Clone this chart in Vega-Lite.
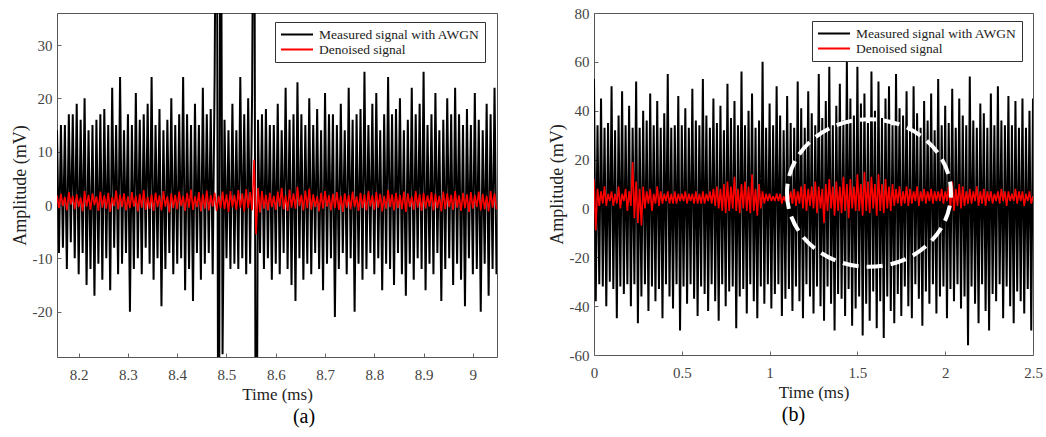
{
"$schema":"https://vega.github.io/schema/vega-lite/v6.json",
"background":"white",
"padding":{"left":10,"top":5,"right":0,"bottom":0},
"spacing":49,
"config":{
"view":{"stroke":"#555","strokeWidth":1},
"axis":{"domain":false,"grid":false,"labelFlush":false,"labelOverlap":false,"labelFont":"Liberation Serif","labelFontSize":15,"labelColor":"#444","titleFont":"Liberation Serif","titleFontSize":17,"titleFontWeight":"normal","titleColor":"#222","tickColor":"#666","tickSize":-4,"labelPadding":9,"titlePadding":4},
"axisX":{"labelPadding":14},
"axisY":{"titleFontSize":18,"titlePadding":3},
"legend":{"labelFont":"Liberation Serif","labelFontSize":13.5,"labelColor":"#222","labelLimit":300,"symbolType":"stroke","symbolSize":1024,"symbolStrokeWidth":2,"strokeColor":"#333","fillColor":"white","padding":5,"rowPadding":0,"labelOffset":5,"clipHeight":15},
"title":{"font":"Liberation Serif","fontSize":20,"fontWeight":"normal","color":"#000","orient":"bottom","offset":5}
},
"datasets":{
"a":[
{"t":8.156,"m":14,"d":1.8},{"t":8.16,"m":-9,"d":-0.6},{"t":8.164,"m":15,"d":2.1},{"t":8.168,"m":-8,"d":-0.2},{"t":8.172,"m":15,"d":1.5},{"t":8.176,"m":-12,"d":-1.0},{"t":8.18,"m":17,"d":2.4},{"t":8.184,"m":-7,"d":0.1},{"t":8.188,"m":17,"d":1.7},{"t":8.192,"m":-10,"d":-0.8},
{"t":8.196,"m":19,"d":2.0},{"t":8.2,"m":-13,"d":-0.4},{"t":8.204,"m":16,"d":1.4},{"t":8.208,"m":-9,"d":-1.2},{"t":8.212,"m":20,"d":2.6},{"t":8.216,"m":-15,"d":-0.3},{"t":8.22,"m":14,"d":1.9},{"t":8.224,"m":-12,"d":-0.9},{"t":8.228,"m":15,"d":2.2},{"t":8.232,"m":-17,"d":0.0},
{"t":8.236,"m":16,"d":1.6},{"t":8.24,"m":-11,"d":-1.1},{"t":8.244,"m":17,"d":2.5},{"t":8.248,"m":-14,"d":-0.5},{"t":8.252,"m":18,"d":1.8},{"t":8.256,"m":-10,"d":-0.7},{"t":8.26,"m":15,"d":2.3},{"t":8.264,"m":-16,"d":-1.3},{"t":8.268,"m":22,"d":1.5},{"t":8.272,"m":-8,"d":-0.2},
{"t":8.276,"m":15,"d":2.7},{"t":8.28,"m":-13,"d":-0.8},{"t":8.284,"m":24,"d":1.9},{"t":8.288,"m":-11,"d":-0.4},{"t":8.292,"m":14,"d":2.2},{"t":8.296,"m":-9,"d":-1.0},{"t":8.3,"m":17,"d":1.6},{"t":8.304,"m":-20,"d":-0.6},{"t":8.308,"m":15,"d":2.4},{"t":8.312,"m":-12,"d":-0.3},
{"t":8.316,"m":21,"d":1.7},{"t":8.32,"m":-10,"d":-1.2},{"t":8.324,"m":16,"d":2.1},{"t":8.328,"m":-13,"d":-0.5},{"t":8.332,"m":17,"d":2.8},{"t":8.336,"m":-8,"d":-0.9},{"t":8.34,"m":19,"d":1.5},{"t":8.344,"m":-11,"d":-0.7},{"t":8.348,"m":24,"d":2.0},{"t":8.352,"m":-14,"d":-1.1},
{"t":8.356,"m":15,"d":2.3},{"t":8.36,"m":-10,"d":-0.4},{"t":8.364,"m":18,"d":1.8},{"t":8.368,"m":-19,"d":-1.0},{"t":8.372,"m":14,"d":2.6},{"t":8.376,"m":-12,"d":-0.3},{"t":8.38,"m":16,"d":1.6},{"t":8.384,"m":-9,"d":-1.4},{"t":8.388,"m":20,"d":2.2},{"t":8.392,"m":-13,"d":-0.6},
{"t":8.396,"m":15,"d":1.9},{"t":8.4,"m":-11,"d":-0.8},{"t":8.404,"m":17,"d":2.5},{"t":8.408,"m":-10,"d":-0.2},{"t":8.412,"m":24,"d":1.7},{"t":8.416,"m":-16,"d":-1.1},{"t":8.42,"m":17,"d":2.3},{"t":8.424,"m":-12,"d":-0.5},{"t":8.428,"m":15,"d":2.9},{"t":8.432,"m":-18,"d":-0.9},
{"t":8.436,"m":19,"d":1.6},{"t":8.44,"m":-9,"d":-0.4},{"t":8.444,"m":15,"d":2.4},{"t":8.448,"m":-14,"d":-1.2},{"t":8.452,"m":22,"d":2.0},{"t":8.456,"m":-11,"d":-0.7},{"t":8.46,"m":17,"d":2.7},{"t":8.464,"m":-9,"d":-1.0},{"t":8.468,"m":18,"d":1.8},{"t":8.472,"m":-13,"d":-0.3},
{"t":8.476,"m":25,"d":2.3},{"t":8.48,"m":90,"d":-1.1},{"t":8.484,"m":-90,"d":1.7},{"t":8.488,"m":90,"d":-0.6},{"t":8.492,"m":-28,"d":2.5},{"t":8.496,"m":16,"d":-0.8},{"t":8.5,"m":-10,"d":2.0},{"t":8.504,"m":14,"d":-1.3},{"t":8.508,"m":-12,"d":2.6},{"t":8.512,"m":19,"d":-0.4},
{"t":8.516,"m":-11,"d":1.9},{"t":8.52,"m":14,"d":-0.9},{"t":8.524,"m":-12,"d":2.8},{"t":8.528,"m":24,"d":-0.5},{"t":8.532,"m":-10,"d":2.2},{"t":8.536,"m":17,"d":-1.2},{"t":8.54,"m":-13,"d":3.0},{"t":8.544,"m":20,"d":-0.6},{"t":8.548,"m":-11,"d":2.4},{"t":8.552,"m":21,"d":-1.0},
{"t":8.556,"m":90,"d":8.5},{"t":8.56,"m":-90,"d":-5.5},{"t":8.564,"m":16,"d":3.2},{"t":8.568,"m":-9,"d":-1.4},{"t":8.572,"m":17,"d":2.6},{"t":8.576,"m":-12,"d":-0.7},{"t":8.58,"m":18,"d":1.9},{"t":8.584,"m":-10,"d":-1.0},{"t":8.588,"m":15,"d":2.3},{"t":8.592,"m":-14,"d":-0.4},
{"t":8.596,"m":15,"d":1.7},{"t":8.6,"m":-11,"d":-0.9},{"t":8.604,"m":19,"d":2.5},{"t":8.608,"m":-13,"d":-0.3},{"t":8.612,"m":14,"d":3.2},{"t":8.616,"m":-9,"d":-0.8},{"t":8.62,"m":22,"d":1.8},{"t":8.624,"m":-12,"d":-1.1},{"t":8.628,"m":16,"d":2.9},{"t":8.632,"m":-15,"d":-0.5},
{"t":8.636,"m":17,"d":2.2},{"t":8.64,"m":-18,"d":-0.7},{"t":8.644,"m":23,"d":3.4},{"t":8.648,"m":-10,"d":-0.2},{"t":8.652,"m":17,"d":1.9},{"t":8.656,"m":-14,"d":-1.0},{"t":8.66,"m":15,"d":2.7},{"t":8.664,"m":-11,"d":-0.6},{"t":8.668,"m":20,"d":3.1},{"t":8.672,"m":-13,"d":-0.9},
{"t":8.676,"m":15,"d":2.0},{"t":8.68,"m":-9,"d":-0.4},{"t":8.684,"m":18,"d":1.6},{"t":8.688,"m":-12,"d":-1.2},{"t":8.692,"m":14,"d":2.3},{"t":8.696,"m":-16,"d":-0.7},{"t":8.7,"m":21,"d":2.6},{"t":8.704,"m":-11,"d":-0.3},{"t":8.708,"m":17,"d":1.8},{"t":8.712,"m":-10,"d":-1.0},
{"t":8.716,"m":17,"d":2.1},{"t":8.72,"m":-21,"d":-0.6},{"t":8.724,"m":15,"d":2.4},{"t":8.728,"m":-12,"d":-0.9},{"t":8.732,"m":19,"d":1.7},{"t":8.736,"m":-9,"d":-1.3},{"t":8.74,"m":14,"d":2.2},{"t":8.744,"m":-13,"d":-0.5},{"t":8.748,"m":22,"d":1.9},{"t":8.752,"m":-10,"d":-0.8},
{"t":8.756,"m":16,"d":2.5},{"t":8.76,"m":-20,"d":-0.4},{"t":8.764,"m":17,"d":1.6},{"t":8.768,"m":-11,"d":-1.1},{"t":8.772,"m":18,"d":2.3},{"t":8.776,"m":-14,"d":-0.6},{"t":8.78,"m":25,"d":2.0},{"t":8.784,"m":-12,"d":-1.0},{"t":8.788,"m":15,"d":2.6},{"t":8.792,"m":-9,"d":-0.3},
{"t":8.796,"m":19,"d":1.8},{"t":8.8,"m":-13,"d":-0.9},{"t":8.804,"m":21,"d":2.4},{"t":8.808,"m":-10,"d":-0.5},{"t":8.812,"m":14,"d":2.1},{"t":8.816,"m":-16,"d":-1.2},{"t":8.82,"m":17,"d":1.7},{"t":8.824,"m":-11,"d":-0.7},{"t":8.828,"m":24,"d":2.8},{"t":8.832,"m":-12,"d":-0.4},
{"t":8.836,"m":17,"d":2.0},{"t":8.84,"m":-15,"d":-1.0},{"t":8.844,"m":18,"d":2.3},{"t":8.848,"m":-9,"d":-0.6},{"t":8.852,"m":20,"d":1.9},{"t":8.856,"m":-13,"d":-0.8},{"t":8.86,"m":14,"d":2.5},{"t":8.864,"m":-17,"d":-1.3},{"t":8.868,"m":16,"d":2.2},{"t":8.872,"m":-11,"d":-0.4},
{"t":8.876,"m":22,"d":1.6},{"t":8.88,"m":-14,"d":-0.9},{"t":8.884,"m":17,"d":2.6},{"t":8.888,"m":-10,"d":-0.5},{"t":8.892,"m":19,"d":2.0},{"t":8.896,"m":-12,"d":-1.1},{"t":8.9,"m":25,"d":2.3},{"t":8.904,"m":-16,"d":-0.7},{"t":8.908,"m":15,"d":1.8},{"t":8.912,"m":-11,"d":-0.3},
{"t":8.916,"m":17,"d":2.4},{"t":8.92,"m":-13,"d":-1.0},{"t":8.924,"m":21,"d":2.1},{"t":8.928,"m":-9,"d":-0.6},{"t":8.932,"m":14,"d":1.7},{"t":8.936,"m":-18,"d":-1.2},{"t":8.94,"m":16,"d":2.5},{"t":8.944,"m":-12,"d":-0.8},{"t":8.948,"m":20,"d":2.2},{"t":8.952,"m":-10,"d":-0.4},
{"t":8.956,"m":17,"d":1.9},{"t":8.96,"m":-15,"d":-0.9},{"t":8.964,"m":22,"d":2.6},{"t":8.968,"m":-11,"d":-0.5},{"t":8.972,"m":17,"d":1.8},{"t":8.976,"m":-14,"d":-1.1},{"t":8.98,"m":15,"d":2.3},{"t":8.984,"m":-19,"d":-0.6},{"t":8.988,"m":18,"d":2.0},{"t":8.992,"m":-10,"d":-1.3},
{"t":8.996,"m":15,"d":2.4},{"t":9.0,"m":-13,"d":-0.7},{"t":9.004,"m":21,"d":1.9},{"t":9.008,"m":-12,"d":-0.4},{"t":9.012,"m":16,"d":2.5},{"t":9.016,"m":-20,"d":-1.0},{"t":9.02,"m":14,"d":2.1},{"t":9.024,"m":-11,"d":-0.8},{"t":9.028,"m":19,"d":1.7},{"t":9.032,"m":-17,"d":-1.2},
{"t":9.036,"m":17,"d":2.6},{"t":9.04,"m":-12,"d":-0.5},{"t":9.044,"m":22,"d":2.2},{"t":9.048,"m":-13,"d":-0.8}
],
"b":[
{"t":0,"m":53,"d":12},{"t":0.01,"m":-38,"d":-9},{"t":0.02,"m":34,"d":8},{"t":0.03,"m":-31,"d":1},{"t":0.04,"m":45,"d":7},{"t":0.05,"m":-32,"d":2},{"t":0.06,"m":33,"d":9},{"t":0.07,"m":-40,"d":1},{"t":0.08,"m":35,"d":6},{"t":0.09,"m":-30,"d":3},
{"t":0.1,"m":50,"d":7},{"t":0.11,"m":-33,"d":1},{"t":0.12,"m":32,"d":6},{"t":0.13,"m":-45,"d":2},{"t":0.14,"m":38,"d":9},{"t":0.15,"m":-32,"d":0},{"t":0.16,"m":48,"d":6},{"t":0.17,"m":-35,"d":3},{"t":0.18,"m":34,"d":8},{"t":0.19,"m":-31,"d":-1},
{"t":0.2,"m":42,"d":7},{"t":0.21,"m":-40,"d":1},{"t":0.22,"m":33,"d":19},{"t":0.23,"m":-31,"d":-4},{"t":0.24,"m":52,"d":11},{"t":0.25,"m":-47,"d":-6},{"t":0.26,"m":33,"d":8},{"t":0.27,"m":-36,"d":-7},{"t":0.28,"m":40,"d":9},{"t":0.29,"m":-31,"d":0},
{"t":0.3,"m":36,"d":7},{"t":0.31,"m":-42,"d":2},{"t":0.32,"m":47,"d":8},{"t":0.33,"m":-32,"d":-1},{"t":0.34,"m":34,"d":6},{"t":0.35,"m":-38,"d":2},{"t":0.36,"m":44,"d":9},{"t":0.37,"m":-33,"d":1},{"t":0.38,"m":33,"d":7},{"t":0.39,"m":-45,"d":2},
{"t":0.4,"m":39,"d":6},{"t":0.41,"m":-31,"d":3},{"t":0.42,"m":55,"d":7},{"t":0.43,"m":-36,"d":2},{"t":0.44,"m":33,"d":6},{"t":0.45,"m":-41,"d":2},{"t":0.46,"m":34,"d":7},{"t":0.47,"m":-31,"d":2},{"t":0.48,"m":46,"d":6},{"t":0.49,"m":-50,"d":3},
{"t":0.5,"m":34,"d":6},{"t":0.51,"m":-32,"d":3},{"t":0.52,"m":41,"d":7},{"t":0.53,"m":-39,"d":2},{"t":0.54,"m":33,"d":6},{"t":0.55,"m":-31,"d":3},{"t":0.56,"m":49,"d":6},{"t":0.57,"m":-37,"d":2},{"t":0.58,"m":36,"d":7},{"t":0.59,"m":-44,"d":2},
{"t":0.6,"m":34,"d":6},{"t":0.61,"m":-32,"d":2},{"t":0.62,"m":53,"d":7},{"t":0.63,"m":-35,"d":2},{"t":0.64,"m":38,"d":6},{"t":0.65,"m":-42,"d":3},{"t":0.66,"m":33,"d":7},{"t":0.67,"m":-31,"d":2},{"t":0.68,"m":45,"d":8},{"t":0.69,"m":-38,"d":1},
{"t":0.7,"m":35,"d":9},{"t":0.71,"m":-46,"d":0},{"t":0.72,"m":42,"d":8},{"t":0.73,"m":-31,"d":-1},{"t":0.74,"m":32,"d":10},{"t":0.75,"m":-40,"d":-2},{"t":0.76,"m":51,"d":11},{"t":0.77,"m":-34,"d":-1},{"t":0.78,"m":37,"d":9},{"t":0.79,"m":-32,"d":0},
{"t":0.8,"m":44,"d":13},{"t":0.81,"m":-49,"d":-1},{"t":0.82,"m":34,"d":8},{"t":0.83,"m":-36,"d":-2},{"t":0.84,"m":56,"d":10},{"t":0.85,"m":-33,"d":0},{"t":0.86,"m":34,"d":11},{"t":0.87,"m":-43,"d":-1},{"t":0.88,"m":40,"d":9},{"t":0.89,"m":-31,"d":-2},
{"t":0.9,"m":47,"d":14},{"t":0.91,"m":-38,"d":-1},{"t":0.92,"m":33,"d":8},{"t":0.93,"m":-45,"d":-3},{"t":0.94,"m":36,"d":10},{"t":0.95,"m":-32,"d":0},{"t":0.96,"m":60,"d":7},{"t":0.97,"m":-39,"d":2},{"t":0.98,"m":33,"d":6},{"t":0.99,"m":-31,"d":3},
{"t":1,"m":43,"d":6},{"t":1.01,"m":-41,"d":3},{"t":1.02,"m":34,"d":5},{"t":1.03,"m":-35,"d":3},{"t":1.04,"m":50,"d":6},{"t":1.05,"m":-31,"d":3},{"t":1.06,"m":38,"d":6},{"t":1.07,"m":-44,"d":2},{"t":1.08,"m":32,"d":5},{"t":1.09,"m":-37,"d":3},
{"t":1.1,"m":46,"d":6},{"t":1.11,"m":-33,"d":3},{"t":1.12,"m":35,"d":7},{"t":1.13,"m":-42,"d":2},{"t":1.14,"m":33,"d":8},{"t":1.15,"m":-32,"d":1},{"t":1.16,"m":52,"d":7},{"t":1.17,"m":-38,"d":2},{"t":1.18,"m":41,"d":9},{"t":1.19,"m":-45,"d":0},
{"t":1.2,"m":33,"d":10},{"t":1.21,"m":-31,"d":-1},{"t":1.22,"m":48,"d":8},{"t":1.23,"m":-36,"d":1},{"t":1.24,"m":39,"d":9},{"t":1.25,"m":-43,"d":0},{"t":1.26,"m":34,"d":11},{"t":1.27,"m":-32,"d":-2},{"t":1.28,"m":55,"d":9},{"t":1.29,"m":-40,"d":0},
{"t":1.3,"m":37,"d":8},{"t":1.31,"m":-46,"d":-6},{"t":1.32,"m":44,"d":10},{"t":1.33,"m":-32,"d":-1},{"t":1.34,"m":58,"d":12},{"t":1.35,"m":-39,"d":0},{"t":1.36,"m":34,"d":9},{"t":1.37,"m":-50,"d":-3},{"t":1.38,"m":42,"d":11},{"t":1.39,"m":-35,"d":-1},
{"t":1.4,"m":51,"d":9},{"t":1.41,"m":-37,"d":-2},{"t":1.42,"m":36,"d":13},{"t":1.43,"m":-44,"d":-1},{"t":1.44,"m":60,"d":10},{"t":1.45,"m":-33,"d":-4},{"t":1.46,"m":45,"d":12},{"t":1.47,"m":-48,"d":0},{"t":1.48,"m":38,"d":9},{"t":1.49,"m":-41,"d":-1},
{"t":1.5,"m":58,"d":14},{"t":1.51,"m":-36,"d":-1},{"t":1.52,"m":43,"d":10},{"t":1.53,"m":-52,"d":-3},{"t":1.54,"m":47,"d":15},{"t":1.55,"m":-39,"d":-1},{"t":1.56,"m":35,"d":11},{"t":1.57,"m":-46,"d":-2},{"t":1.58,"m":56,"d":13},{"t":1.59,"m":-34,"d":0},
{"t":1.6,"m":40,"d":10},{"t":1.61,"m":-49,"d":-3},{"t":1.62,"m":52,"d":14},{"t":1.63,"m":-38,"d":-1},{"t":1.64,"m":37,"d":10},{"t":1.65,"m":-53,"d":-2},{"t":1.66,"m":45,"d":12},{"t":1.67,"m":-36,"d":0},{"t":1.68,"m":50,"d":9},{"t":1.69,"m":-42,"d":-1},
{"t":1.7,"m":34,"d":10},{"t":1.71,"m":-47,"d":1},{"t":1.72,"m":55,"d":8},{"t":1.73,"m":-35,"d":2},{"t":1.74,"m":41,"d":9},{"t":1.75,"m":-44,"d":1},{"t":1.76,"m":38,"d":7},{"t":1.77,"m":-32,"d":2},{"t":1.78,"m":48,"d":9},{"t":1.79,"m":-40,"d":1},
{"t":1.8,"m":33,"d":8},{"t":1.81,"m":-45,"d":2},{"t":1.82,"m":50,"d":7},{"t":1.83,"m":-31,"d":3},{"t":1.84,"m":39,"d":9},{"t":1.85,"m":-37,"d":1},{"t":1.86,"m":33,"d":7},{"t":1.87,"m":-48,"d":3},{"t":1.88,"m":44,"d":8},{"t":1.89,"m":-34,"d":2},
{"t":1.9,"m":36,"d":7},{"t":1.91,"m":-39,"d":3},{"t":1.92,"m":47,"d":8},{"t":1.93,"m":-31,"d":2},{"t":1.94,"m":32,"d":7},{"t":1.95,"m":-43,"d":3},{"t":1.96,"m":53,"d":7},{"t":1.97,"m":-36,"d":3},{"t":1.98,"m":34,"d":8},{"t":1.99,"m":-32,"d":2},
{"t":2,"m":42,"d":7},{"t":2.01,"m":-45,"d":3},{"t":2.02,"m":35,"d":9},{"t":2.03,"m":-33,"d":0},{"t":2.04,"m":49,"d":11},{"t":2.05,"m":-38,"d":-1},{"t":2.06,"m":33,"d":8},{"t":2.07,"m":-31,"d":1},{"t":2.08,"m":45,"d":10},{"t":2.09,"m":-41,"d":0},
{"t":2.1,"m":38,"d":9},{"t":2.11,"m":-36,"d":1},{"t":2.12,"m":34,"d":7},{"t":2.13,"m":-56,"d":2},{"t":2.14,"m":54,"d":8},{"t":2.15,"m":-32,"d":2},{"t":2.16,"m":36,"d":7},{"t":2.17,"m":-39,"d":3},{"t":2.18,"m":33,"d":9},{"t":2.19,"m":-47,"d":1},
{"t":2.2,"m":43,"d":7},{"t":2.21,"m":-31,"d":2},{"t":2.22,"m":39,"d":8},{"t":2.23,"m":-42,"d":1},{"t":2.24,"m":33,"d":7},{"t":2.25,"m":-50,"d":3},{"t":2.26,"m":47,"d":7},{"t":2.27,"m":-35,"d":2},{"t":2.28,"m":34,"d":6},{"t":2.29,"m":-38,"d":3},
{"t":2.3,"m":50,"d":7},{"t":2.31,"m":-31,"d":2},{"t":2.32,"m":36,"d":8},{"t":2.33,"m":-45,"d":3},{"t":2.34,"m":34,"d":7},{"t":2.35,"m":-32,"d":1},{"t":2.36,"m":46,"d":7},{"t":2.37,"m":-40,"d":3},{"t":2.38,"m":34,"d":6},{"t":2.39,"m":-47,"d":3},
{"t":2.4,"m":44,"d":8},{"t":2.41,"m":-34,"d":2},{"t":2.42,"m":33,"d":7},{"t":2.43,"m":-38,"d":3},{"t":2.44,"m":45,"d":7},{"t":2.45,"m":-43,"d":1},{"t":2.46,"m":33,"d":6},{"t":2.47,"m":-33,"d":3},{"t":2.48,"m":40,"d":7},{"t":2.49,"m":-50,"d":2},
{"t":2.5,"m":45,"d":5}
],
"circ":[{"t":1.566,"v":6.3}]
},
"hconcat":[
{
"width":440,"height":344,
"title":{"text":"(a)","dx":27},
"data":{"name":"a"},
"layer":[
{"mark":{"type":"line","strokeWidth":2.0,"strokeJoin":"bevel","clip":true},
"encoding":{
"x":{"field":"t","type":"quantitative","scale":{"domain":[8.156,9.049],"nice":false,"zero":false},"axis":{"title":"Time (ms)","values":[8.2,8.3,8.4,8.5,8.6,8.7,8.8,8.9,9],"labelExpr":"'' + datum.value"}},
"y":{"field":"m","type":"quantitative","scale":{"domain":[-28.5,36],"nice":false,"zero":false},"axis":{"title":"Amplitude (mV)","values":[-20,-10,0,10,20,30],"labelExpr":"'' + datum.value"}},
"color":{"datum":"Measured signal with AWGN","type":"nominal","scale":{"domain":["Measured signal with AWGN","Denoised signal"],"range":["#000000","#ff0000"]},"legend":{"title":null,"orient":"none","legendX":218,"legendY":9}}
}},
{"mark":{"type":"line","strokeWidth":1.6,"strokeJoin":"bevel","clip":true},
"encoding":{
"x":{"field":"t","type":"quantitative"},
"y":{"field":"d","type":"quantitative","axis":{"title":"Amplitude (mV)"}},
"color":{"datum":"Denoised signal","type":"nominal"}
}}
]
},
{
"width":439,"height":342,
"title":{"text":"(b)","dx":-20},
"layer":[
{"data":{"name":"b"},
"mark":{"type":"line","strokeWidth":2.0,"strokeJoin":"bevel","clip":true},
"encoding":{
"x":{"field":"t","type":"quantitative","scale":{"domain":[0,2.5],"nice":false},"axis":{"title":"Time (ms)","values":[0,0.5,1,1.5,2,2.5],"labelExpr":"'' + datum.value"}},
"y":{"field":"m","type":"quantitative","scale":{"domain":[-60,80],"nice":false},"axis":{"title":"Amplitude (mV)","values":[-60,-40,-20,0,20,40,60,80],"labelExpr":"'' + datum.value"}},
"color":{"datum":"Measured signal with AWGN","type":"nominal","scale":{"domain":["Measured signal with AWGN","Denoised signal"],"range":["#000000","#ff0000"]},"legend":{"title":null,"orient":"none","legendX":218,"legendY":8}}
}},
{"data":{"name":"b"},
"mark":{"type":"line","strokeWidth":1.6,"strokeJoin":"bevel","clip":true},
"encoding":{
"x":{"field":"t","type":"quantitative"},
"y":{"field":"d","type":"quantitative","axis":{"title":"Amplitude (mV)"}},
"color":{"datum":"Denoised signal","type":"nominal"}
}},
{"data":{"name":"circ"},
"mark":{"type":"point","shape":"M -1 0 A 1 0.9 0 1 0 1 0 A 1 0.9 0 1 0 -1 0 Z","size":26896,"filled":false,"stroke":"white","strokeWidth":4,"strokeDash":[16,8],"opacity":1},
"encoding":{
"x":{"field":"t","type":"quantitative"},
"y":{"field":"v","type":"quantitative","axis":{"title":"Amplitude (mV)"}}
}}
]
}
],
"resolve":{"scale":{"color":"independent"},"legend":{"color":"independent"}}
}
